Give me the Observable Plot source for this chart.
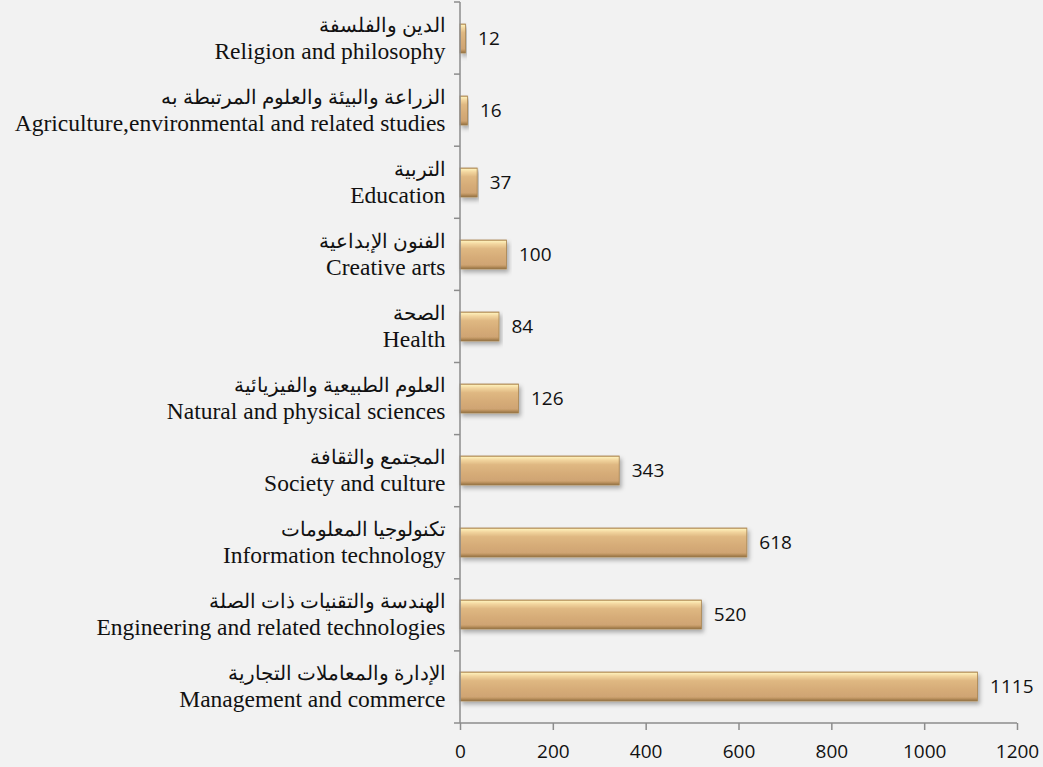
<!DOCTYPE html>
<html><head><meta charset="utf-8">
<script src="https://cdn.jsdelivr.net/npm/d3@7"></script>
<script src="https://cdn.jsdelivr.net/npm/@observablehq/plot@0.6"></script>
<style>
html,body{margin:0;padding:0;background:#f2f2f2;}
#chart svg{display:block;background:#f2f2f2;}
</style>
</head><body><div id="chart"></div>
<script>
// top to bottom
const categoriesAr = [
  "الدين والفلسفة",
  "الزراعة والبيئة والعلوم المرتبطة به",
  "التربية",
  "الفنون الإبداعية",
  "الصحة",
  "العلوم الطبيعية والفيزيائية",
  "المجتمع والثقافة",
  "تكنولوجيا المعلومات",
  "الهندسة والتقنيات ذات الصلة",
  "الإدارة والمعاملات التجارية"
];
const categoriesEn = [
  "Religion and philosophy",
  "Agriculture,environmental and related studies",
  "Education",
  "Creative arts",
  "Health",
  "Natural and physical sciences",
  "Society and culture",
  "Information technology",
  "Engineering and related technologies",
  "Management and commerce"
];
const values = [12, 16, 37, 100, 84, 126, 343, 618, 520, 1115];
const xTicks = [0, 200, 400, 600, 800, 1000, 1200];

const data = categoriesEn.map((en, i) => ({en, ar: categoriesAr[i], value: values[i]}));

const W = 1043, H = 767;
const mL = 460, mR = 26, mT = 2, mB = 44;
const axisColor = "#8c8c8c";

function defsMark() {
  const defs = d3.create("svg:defs");
  const g = defs.append("linearGradient").attr("id", "barGrad")
    .attr("x1", 0).attr("y1", 0).attr("x2", 0).attr("y2", 1);
  [[0, "#c29d68"], [0.05, "#fcecb6"], [0.14, "#f2d59e"], [0.3, "#dfb882"],
   [0.6, "#d6ac78"], [0.86, "#cfa473"], [0.93, "#b58c59"], [1, "#8a6a40"]]
    .forEach(([o, c]) => g.append("stop").attr("offset", o).attr("stop-color", c));
  const f = defs.append("filter").attr("id", "barShadow")
    .attr("x", "-5%").attr("y", "-30%").attr("width", "115%").attr("height", "180%");
  f.append("feDropShadow").attr("dx", 2).attr("dy", 3).attr("stdDeviation", 2)
    .attr("flood-color", "#000").attr("flood-opacity", 0.3);
  return defs.node();
}

function frameMark(index, scales, values, dims) {
  const g = d3.create("svg:g").attr("stroke", axisColor).attr("stroke-width", 1.5).attr("fill", "none");
  const x0 = dims.marginLeft, y0 = dims.marginTop, y1 = dims.height - dims.marginBottom;
  const n = categoriesEn.length;
  const step = (y1 - y0) / n;
  g.append("line").attr("x1", x0).attr("x2", x0).attr("y1", y0).attr("y2", y1);
  g.append("line").attr("x1", x0).attr("x2", dims.width - dims.marginRight).attr("y1", y1).attr("y2", y1);
  for (let i = 0; i <= n; i++) {
    const y = y0 + i * step;
    g.append("line").attr("x1", x0 - 6).attr("x2", x0).attr("y1", y).attr("y2", y);
  }
  return g.node();
}

const serif = "'Liberation Serif', 'DejaVu Serif', serif";
const sans = "'Open Sans', sans-serif";

const chart = Plot.plot({
  width: W, height: H,
  marginLeft: mL, marginRight: mR, marginTop: mT, marginBottom: mB,
  style: {background: "#f2f2f2", color: "#111", fontFamily: sans},
  x: {domain: [0, 1200], axis: null},
  y: {domain: categoriesEn, paddingInner: 0.6, paddingOuter: 0.3, axis: null},
  marks: [
    defsMark,
    Plot.barX(data, {x: "value", y: "en", fill: "#d4aa76", stroke: "#a8844f", strokeWidth: 0.8}),
    frameMark,
    Plot.axisX(xTicks, {tickSize: 7, tickPadding: 14, stroke: axisColor, strokeWidth: 1.5, fill: "#111",
      fontSize: 19, fontFamily: sans, label: null, tickFormat: d => String(d)}),
    Plot.text(data, {x: d => 0, y: "en", text: "ar", dx: -15, dy: -13, textAnchor: "end",
      fontSize: 20, fontFamily: serif, fill: "#111"}),
    Plot.text(data, {x: d => 0, y: "en", text: "en", dx: -15, dy: 12, textAnchor: "end",
      fontSize: 23.5, fontFamily: serif, fill: "#111"}),
    Plot.text(data, {x: "value", y: "en", text: d => String(d.value), dx: 12, textAnchor: "start",
      fontSize: 19, fontFamily: sans, fill: "#111"})
  ]
});

d3.select(chart).selectAll("g[aria-label='bar'] rect")
  .attr("fill", "url(#barGrad)")
  .attr("filter", "url(#barShadow)");

document.getElementById("chart").appendChild(chart);
</script>
</body></html>
